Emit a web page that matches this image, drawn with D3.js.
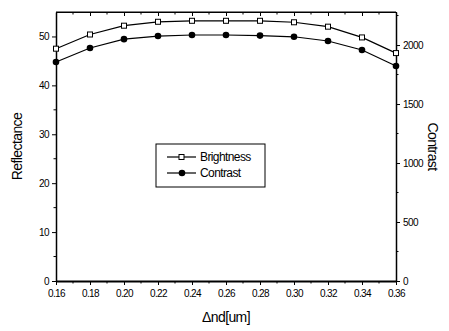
<!DOCTYPE html>
<html>
<head>
<meta charset="utf-8">
<script src="https://cdn.jsdelivr.net/npm/d3@7"></script>
<style>
  body { margin: 0; background: #fff; }
  text { font-family: "Liberation Sans Narrow", "Liberation Sans", Arial, sans-serif; fill: #000; }
</style>
</head>
<body>
<svg id="vis"></svg>
<script>
const WIDTH = 449;
const HEIGHT = 331;

// data
const dnd = [0.16, 0.18, 0.20, 0.22, 0.24, 0.26, 0.28, 0.30, 0.32, 0.34, 0.36];
const brightness = [47.5, 50.4, 52.2, 53.0, 53.2, 53.2, 53.2, 52.9, 52.0, 49.8, 46.6];
const contrast = [1856, 1975, 2050, 2076, 2085, 2085, 2080, 2070, 2034, 1958, 1822];
const xTicks = [0.16, 0.18, 0.20, 0.22, 0.24, 0.26, 0.28, 0.30, 0.32, 0.34, 0.36];
const leftTicks = [0, 10, 20, 30, 40, 50];
const rightTicks = [0, 500, 1000, 1500, 2000];
const legendNames = ["Brightness", "Contrast"];

const margin = { left: 56, right: 53, top: 12, bottom: 50 };

const svg = d3.select("#vis")
    .attr("width", WIDTH)
    .attr("height", HEIGHT);

const x = d3.scaleLinear().domain([0.16, 0.36]).range([margin.left, WIDTH - margin.right]);
const yL = d3.scaleLinear().domain([0, 55]).range([HEIGHT - margin.bottom, margin.top]);
const yR = d3.scaleLinear().domain([0, 2280]).range([HEIGHT - margin.bottom, margin.top]);

const x0 = margin.left, x1 = WIDTH - margin.right;
const y0 = HEIGHT - margin.bottom, y1 = margin.top;

// minor ticks
function minor(g, pos, len, vertical) {
    g.selectAll("line").data(pos).join("line")
        .attr("stroke", "#000").attr("stroke-width", 1)
        .each(function (p) {
            const s = d3.select(this);
            if (vertical) s.attr("x1", p).attr("x2", p).attr("y1", 0).attr("y2", len);
            else s.attr("y1", p).attr("y2", p).attr("x1", 0).attr("x2", len);
        });
}

// bottom axis
const axBottom = svg.append("g").attr("transform", `translate(0,${y0})`);
axBottom.call(d3.axisBottom(x).tickValues(xTicks).tickSize(4).tickSizeOuter(0)
    .tickFormat(d => d3.format(".2f")(d)));
axBottom.select(".domain").attr("stroke-width", 2);
axBottom.selectAll("text").attr("font-size", 10).attr("dy", "0.9em").attr("letter-spacing", -0.6);
minor(axBottom.append("g"), d3.range(0.17, 0.36, 0.02).map(x), 2.5, true);

// top axis (ticks inward)
const axTop = svg.append("g").attr("transform", `translate(0,${y1})`);
axTop.call(d3.axisBottom(x).tickValues(xTicks).tickSize(4).tickSizeOuter(0).tickFormat(""));
minor(axTop.append("g"), d3.range(0.17, 0.36, 0.02).map(x), 2.5, true);

// left axis
const axLeft = svg.append("g").attr("transform", `translate(${x0},0)`);
axLeft.call(d3.axisLeft(yL).tickValues(leftTicks).tickSize(4).tickSizeOuter(0));
axLeft.select(".domain").attr("stroke-width", 1.5);
axLeft.selectAll("text").attr("font-size", 10).attr("letter-spacing", -0.6);
minor(axLeft.append("g"), [5, 15, 25, 35, 45].map(yL), -2.5, false);

// right axis
const axRight = svg.append("g").attr("transform", `translate(${x1},0)`);
axRight.call(d3.axisRight(yR).tickValues(rightTicks).tickSize(4).tickSizeOuter(0)
    .tickFormat(d3.format("d")));
axRight.select(".domain").attr("stroke-width", 1.5);
axRight.selectAll("text").attr("font-size", 10).attr("letter-spacing", -0.6);
minor(axRight.append("g"), [250, 750, 1250, 1750, 2250].map(yR), 2.5, false);

// frame top line
svg.append("line").attr("x1", x0).attr("x2", x1).attr("y1", y1).attr("y2", y1)
    .attr("stroke", "#000").attr("stroke-width", 1);

// axis titles
svg.append("text").attr("transform", `translate(22,${(y0 + y1) / 2}) rotate(-90)`)
    .attr("text-anchor", "middle").attr("font-size", 14).attr("letter-spacing", -0.6)
    .text("Reflectance");
svg.append("text").attr("transform", `translate(428,${(y0 + y1) / 2}) rotate(90)`)
    .attr("text-anchor", "middle").attr("font-size", 14).attr("letter-spacing", -0.6)
    .text("Contrast");
svg.append("text").attr("x", (x0 + x1) / 2).attr("y", 322)
    .attr("text-anchor", "middle").attr("font-size", 14).attr("letter-spacing", -0.6)
    .text("\u0394nd[um]");

// series
const bData = dnd.map((d, i) => ({ x: d, y: brightness[i] }));
const cData = dnd.map((d, i) => ({ x: d, y: contrast[i] }));

svg.append("path").datum(bData)
    .attr("fill", "none").attr("stroke", "#000").attr("stroke-width", 1.2)
    .attr("d", d3.line().x(d => x(d.x)).y(d => yL(d.y)));
svg.append("path").datum(cData)
    .attr("fill", "none").attr("stroke", "#000").attr("stroke-width", 1.2)
    .attr("d", d3.line().x(d => x(d.x)).y(d => yR(d.y)));

svg.selectAll(".sq").data(bData).join("rect")
    .attr("class", "sq")
    .attr("x", d => x(d.x) - 2.5).attr("y", d => yL(d.y) - 2.5)
    .attr("width", 5).attr("height", 5)
    .attr("fill", "#fff").attr("stroke", "#000").attr("stroke-width", 1);
svg.selectAll(".dot").data(cData).join("circle")
    .attr("class", "dot")
    .attr("cx", d => x(d.x)).attr("cy", d => yR(d.y)).attr("r", 3.3)
    .attr("fill", "#000");

// legend
const leg = svg.append("g").attr("transform", "translate(156,144)");
leg.append("rect").attr("width", 109).attr("height", 43)
    .attr("fill", "#fff").attr("stroke", "#000").attr("stroke-width", 1);
legendNames.forEach((name, i) => {
    const ly = 13 + i * 16;
    leg.append("line").attr("x1", 11).attr("x2", 40).attr("y1", ly).attr("y2", ly)
        .attr("stroke", "#000").attr("stroke-width", 1.2);
    if (i === 0) {
        leg.append("rect").attr("x", 23).attr("y", ly - 2.5).attr("width", 5).attr("height", 5)
            .attr("fill", "#fff").attr("stroke", "#000");
    } else {
        leg.append("circle").attr("cx", 26).attr("cy", ly).attr("r", 3.3).attr("fill", "#000");
    }
    leg.append("text").attr("x", 44).attr("y", ly).attr("dy", "0.35em")
        .attr("font-size", 12).attr("letter-spacing", -0.6).text(name);
});
</script>
</body>
</html>
